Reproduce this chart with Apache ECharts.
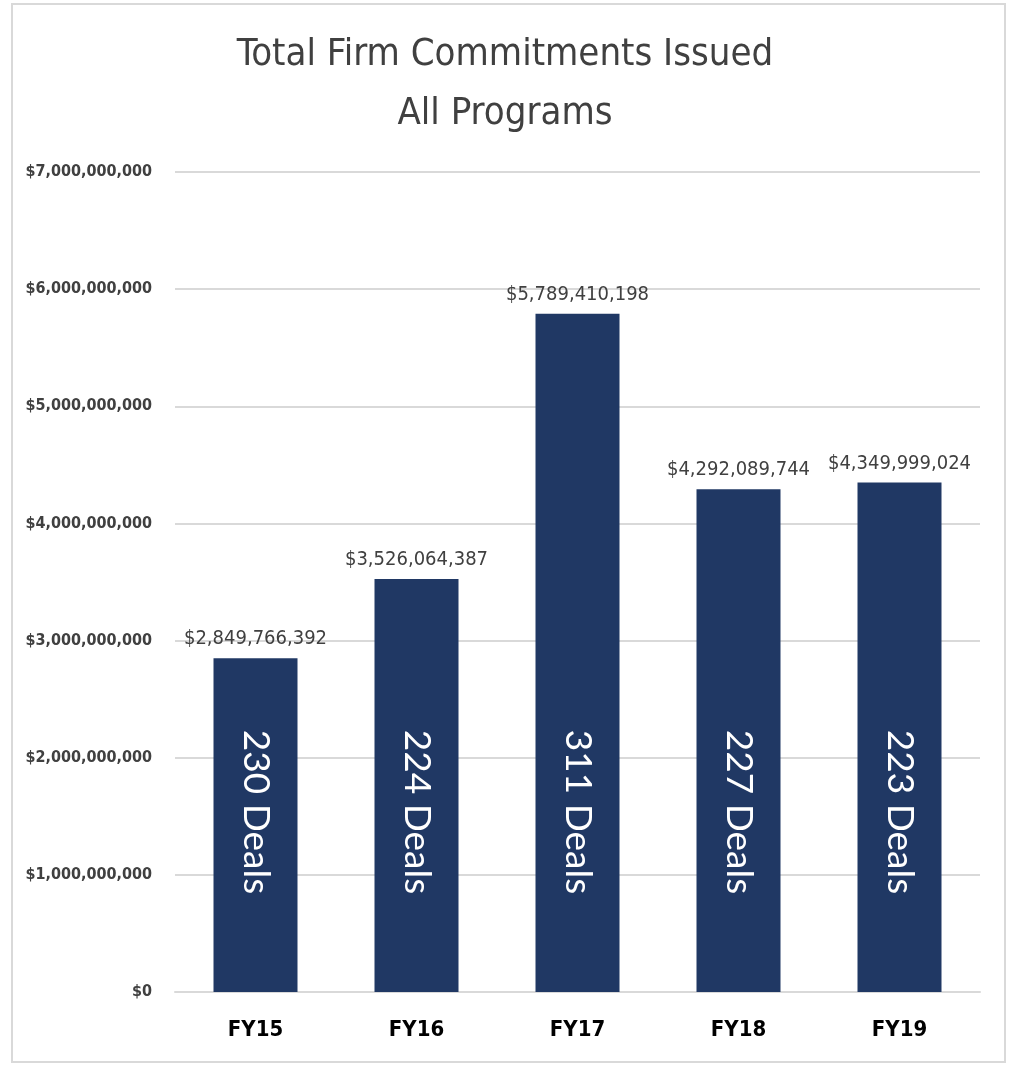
<!DOCTYPE html>
<html>
<head>
<meta charset="utf-8">
<script src="https://cdn.jsdelivr.net/npm/echarts@6/dist/echarts.min.js"></script>
<style>
  html, body { margin: 0; padding: 0; background: #fff; }
  #main { width: 1010px; height: 1065px; }
</style>
</head>
<body>
<div id="main"></div>
<script>
var years = ['FY15', 'FY16', 'FY17', 'FY18', 'FY19'];
var amounts = [2849766392, 3526064387, 5789410198, 4292089744, 4349999024];
var deals = [230, 224, 311, 227, 223];
var yTicks = [0, 1000000000, 7000000000];

var narrow = "'Liberation Sans Narrow', 'DejaVu Sans Condensed', 'Roboto Condensed', sans-serif";

function money(v) {
  return '$' + v.toLocaleString('en-US');
}

var chartDom = document.getElementById('main');
var myChart = echarts.init(chartDom, null, { renderer: 'canvas' });

var option = {
  backgroundColor: '#fff',
  animation: false,
  title: {
    text: 'Total Firm Commitments Issued\nAll Programs',
    left: 'center',
    top: 21,
    textStyle: {
      fontFamily: narrow,
      fontSize: 38,
      fontWeight: 'normal',
      color: '#404040',
      lineHeight: 59
    }
  },
  graphic: [{
    type: 'rect',
    shape: { x: 12, y: 4, width: 993, height: 1058 },
    style: { fill: 'none', stroke: '#d9d9d9', lineWidth: 2 },
    silent: true
  }],
  grid: { left: 175, right: 30, top: 172, bottom: 73 },
  xAxis: {
    type: 'category',
    data: years,
    axisTick: { show: false },
    axisLine: { lineStyle: { color: '#d9d9d9', width: 2 } },
    axisLabel: {
      margin: 27,
      fontFamily: narrow,
      fontSize: 22,
      fontWeight: 'bold',
      color: '#000'
    }
  },
  yAxis: {
    type: 'value',
    min: yTicks[0],
    max: yTicks[2],
    interval: yTicks[1],
    axisLine: { show: false },
    axisTick: { show: false },
    splitLine: { lineStyle: { color: '#d9d9d9', width: 2 } },
    axisLabel: {
      margin: 23,
      fontFamily: narrow,
      fontSize: 16,
      fontWeight: 'bold',
      color: '#404040',
      formatter: money
    }
  },
  series: [{
    type: 'bar',
    data: amounts,
    barWidth: 84,
    itemStyle: { color: '#203864' },
    label: {
      show: true,
      position: 'top',
      distance: 9,
      fontFamily: narrow,
      fontSize: 20,
      color: '#404040',
      formatter: function (p) { return money(p.value); }
    },
    labelLayout: { hideOverlap: false }
  }, {
    // invisible helper series carrying the rotated "Deals" labels
    type: 'bar',
    data: amounts,
    barWidth: 84,
    barGap: '-100%',
    itemStyle: { color: 'rgba(0,0,0,0)' },
    silent: true,
    z: 5,
    label: {
      show: true,
      position: 'insideBottom',
      distance: 180,
      rotate: -90,
      align: 'center',
      verticalAlign: 'middle',
      fontFamily: "'Lato', 'Noto Sans', sans-serif",
      fontSize: 37,
      color: '#fff',
      formatter: function (p) { return deals[p.dataIndex] + ' Deals'; }
    }
  }]
};

myChart.setOption(option);
window.addEventListener('resize', function () {
  myChart.resize();
});
</script>
</body>
</html>
